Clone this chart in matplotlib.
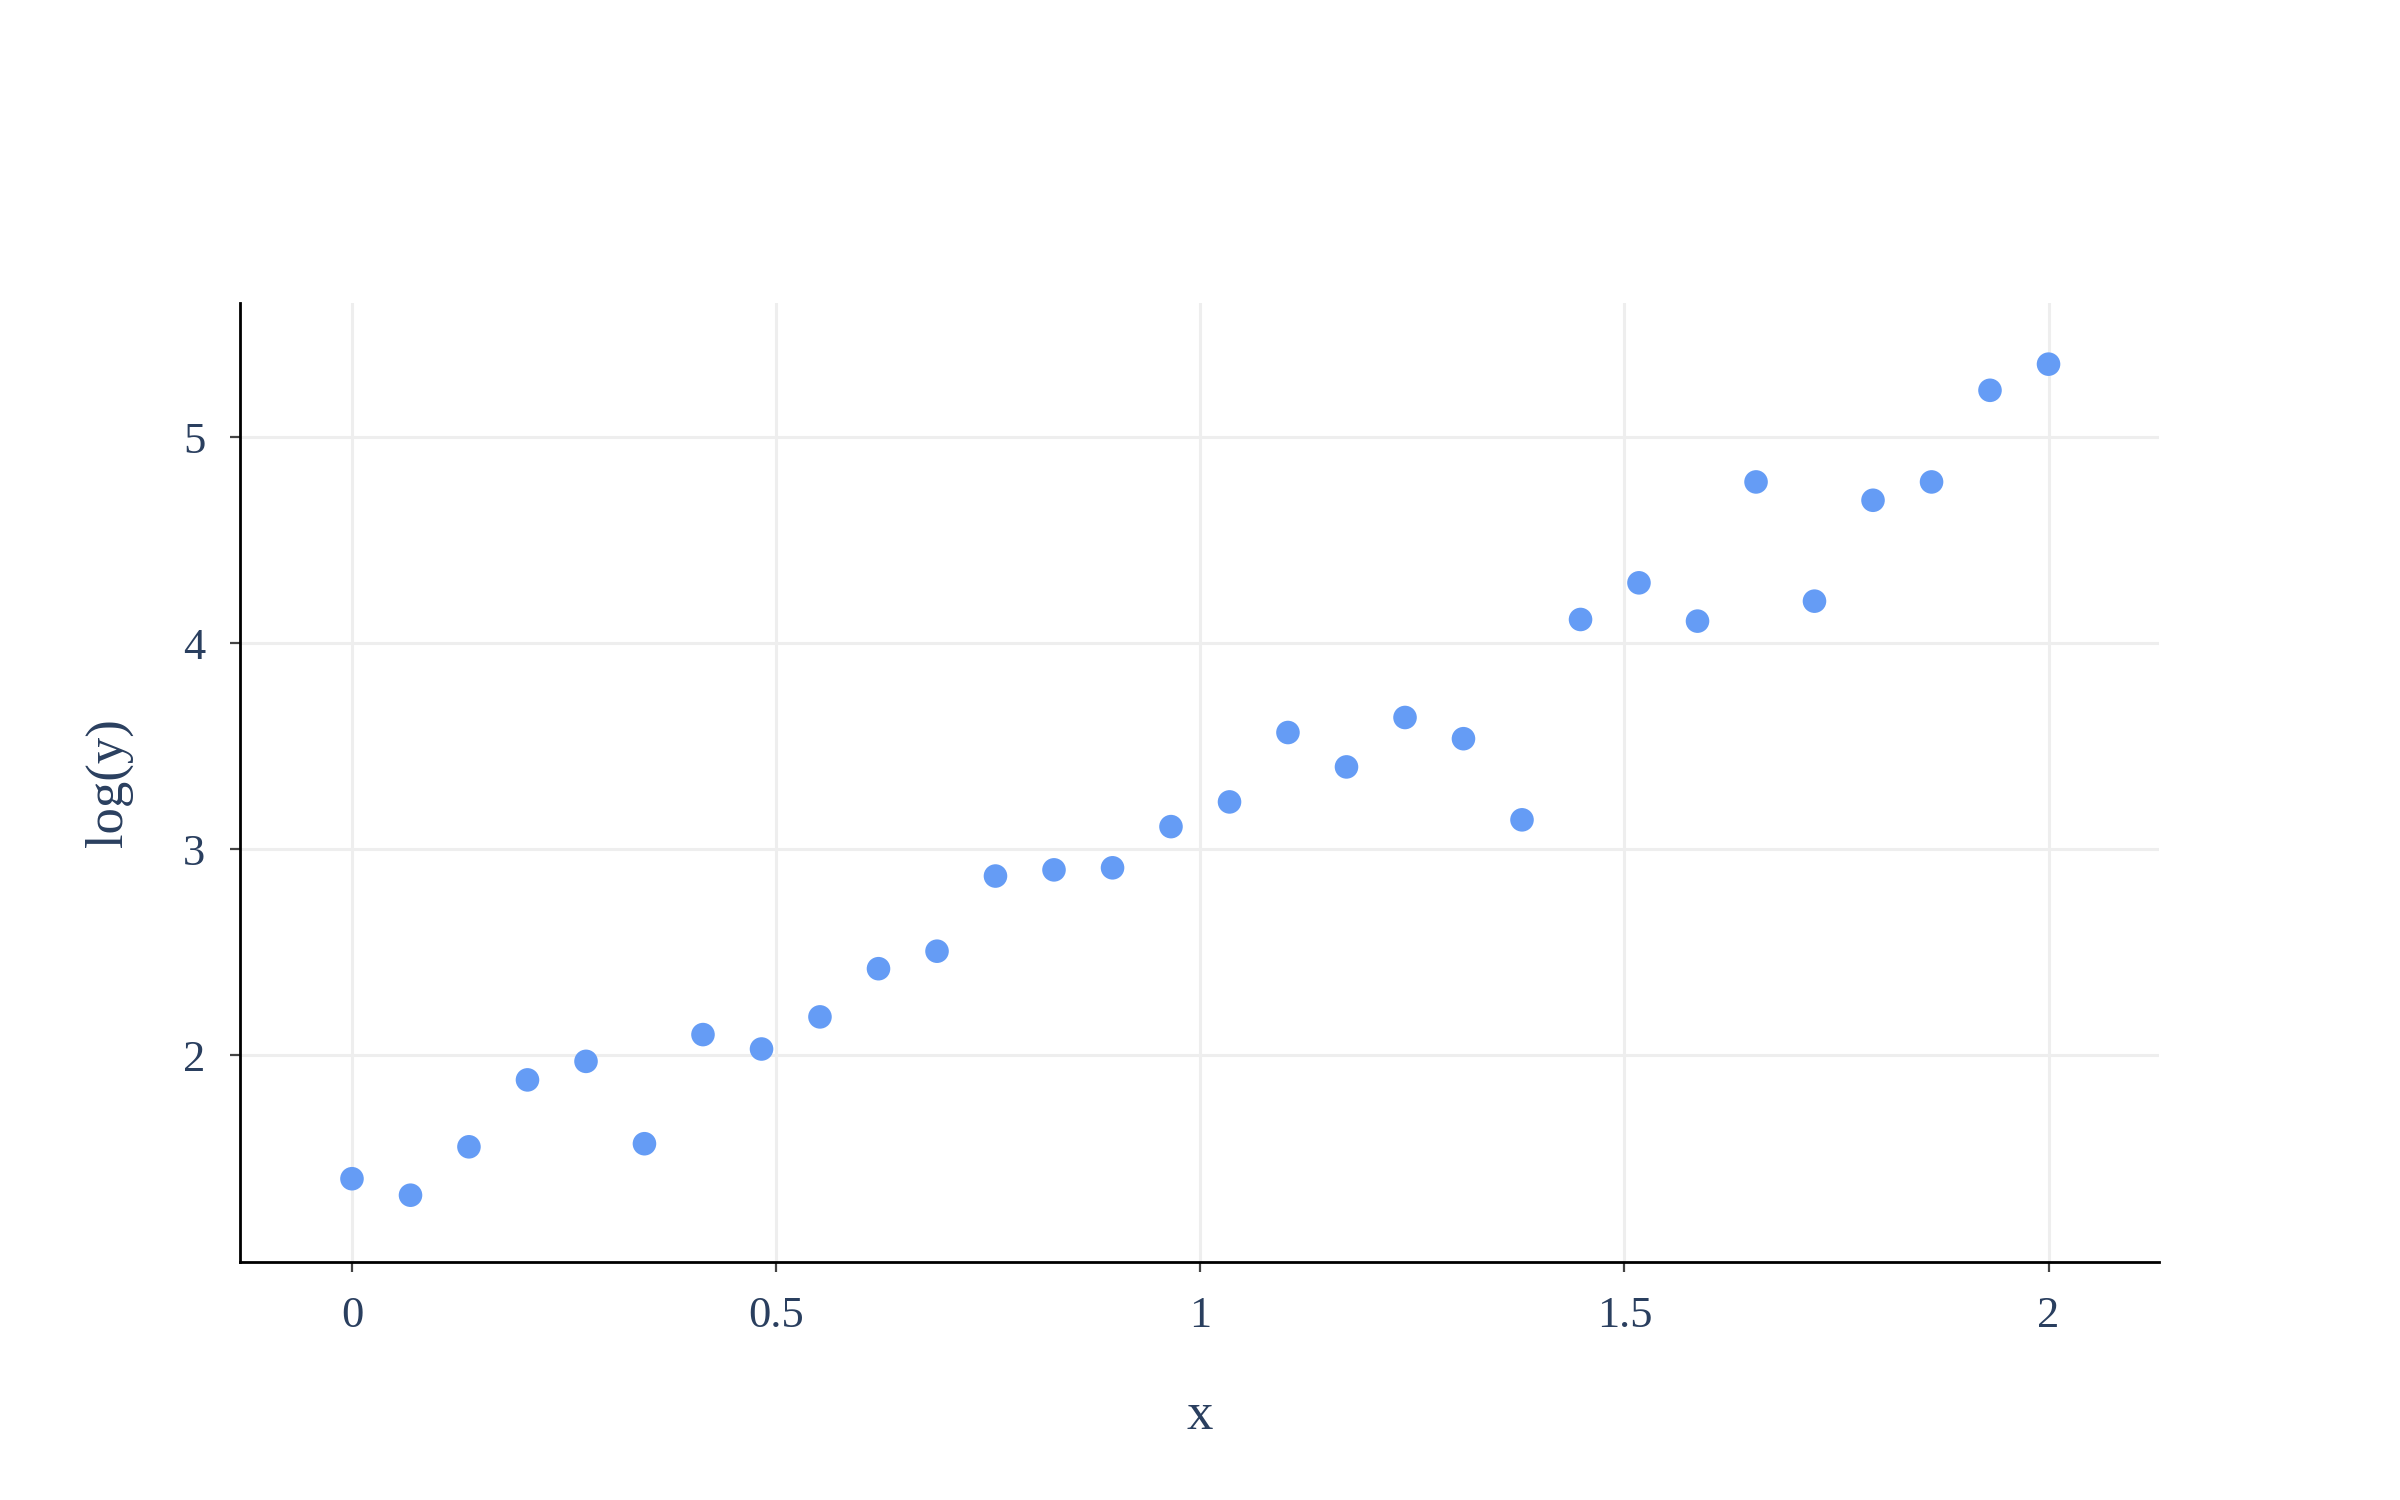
import matplotlib.pyplot as plt

# data
x_vals = [0.0, 0.0690, 0.1379, 0.2069, 0.2759, 0.3448, 0.4138, 0.4828, 0.5517, 0.6207,
          0.6897, 0.7586, 0.8276, 0.8966, 0.9655, 1.0345, 1.1034, 1.1724, 1.2414, 1.3103,
          1.3793, 1.4483, 1.5172, 1.5862, 1.6552, 1.7241, 1.7931, 1.8621, 1.9310, 2.0]
logy_vals = [1.40, 1.32, 1.555, 1.88, 1.97, 1.57, 2.10, 2.03, 2.186, 2.42,
             2.505, 2.87, 2.90, 2.91, 3.11, 3.23, 3.567, 3.40, 3.64, 3.537,
             3.143, 4.116, 4.294, 4.108, 4.784, 4.205, 4.695, 4.784, 5.229, 5.356]
x_ticks = [0, 0.5, 1, 1.5, 2]
x_ticklabels = ['0', '0.5', '1', '1.5', '2']
y_ticks = [2, 3, 4, 5]

plt.rcParams['font.family'] = ['Liberation Serif', 'DejaVu Serif']
text_col = '#2a3f5f'

fig = plt.figure(figsize=(12, 7.5), dpi=200)
ax = fig.add_axes([0.1, 0.159, 0.7995, 0.639])

ax.scatter(x_vals, logy_vals, s=72, color='#659cf5', edgecolors='none', zorder=3)

ax.set_xlim(-0.132, 2.13)
ax.set_ylim(0.998, 5.653)
ax.set_xticks(x_ticks)
ax.set_xticklabels(x_ticklabels)
ax.set_yticks(y_ticks)

ax.grid(True, color='#eeeeee', linewidth=1.1, zorder=0)
ax.set_axisbelow(True)
for side in ['top', 'right']:
    ax.spines[side].set_visible(False)
for side in ['left', 'bottom']:
    ax.spines[side].set_color('black')
    ax.spines[side].set_linewidth(1.0)

ax.tick_params(axis='both', direction='out', length=3.5, width=0.8, color='#444444',
               labelcolor=text_col, labelsize=16, pad=9)

ax.set_xlabel('x', fontsize=19, color=text_col, labelpad=20)
ax.set_ylabel('log(y)', fontsize=19, color=text_col, labelpad=18)

fig.savefig('out.png', dpi=200, facecolor='white')
